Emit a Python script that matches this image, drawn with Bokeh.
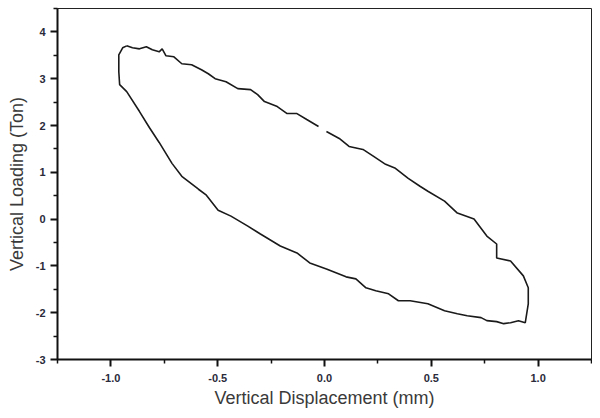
from bokeh.plotting import figure
from bokeh.models import Range1d, FixedTicker, PrintfTickFormatter
from bokeh.embed import file_html
from bokeh.resources import INLINE
import numpy as np

# Hysteresis loop: displacement (mm), load (Ton)
# upper branch (left peak -> right end), NaN marks the small gap in the trace
disp_upper = [-0.926, -0.899, -0.866, -0.834, -0.806, -0.774, -0.760, -0.742, -0.705, -0.668,
              -0.622, -0.576, -0.544, -0.512, -0.461, -0.406, -0.346, -0.313, -0.281, -0.221,
              -0.175, -0.129, -0.083, -0.028, np.nan, 0.009, 0.069, 0.115, 0.180, 0.230,
              0.286, 0.332, 0.392, 0.447, 0.484, 0.562, 0.622, 0.700, 0.760, 0.806,
              0.806, 0.871, 0.931, 0.954, 0.954, 0.940]
load_upper = [3.702, 3.660, 3.638, 3.681, 3.617, 3.574, 3.638, 3.489, 3.468, 3.319,
              3.298, 3.191, 3.106, 3.000, 2.936, 2.787, 2.766, 2.660, 2.511, 2.404,
              2.255, 2.255, 2.128, 1.979, np.nan, 1.872, 1.723, 1.553, 1.489, 1.340,
              1.170, 1.085, 0.872, 0.702, 0.596, 0.383, 0.128, 0.000, -0.362, -0.532,
              -0.830, -0.894, -1.213, -1.468, -1.809, -2.213]
# lower branch (right end -> back to the left peak)
disp_lower = [0.908, 0.871, 0.839, 0.806, 0.760, 0.733, 0.668, 0.622, 0.562, 0.484,
              0.401, 0.346, 0.300, 0.240, 0.194, 0.147, 0.101, 0.009, -0.069, -0.129,
              -0.207, -0.300, -0.359, -0.438, -0.498, -0.553, -0.590, -0.668, -0.714, -0.774,
              -0.820, -0.866, -0.926, -0.959, -0.963, -0.963, -0.945, -0.926]
load_lower = [-2.170, -2.213, -2.234, -2.191, -2.170, -2.106, -2.064, -2.021, -1.957, -1.809,
              -1.745, -1.745, -1.596, -1.532, -1.468, -1.277, -1.234, -1.064, -0.936, -0.723,
              -0.574, -0.319, -0.149, 0.064, 0.191, 0.511, 0.638, 0.915, 1.191, 1.638,
              1.957, 2.298, 2.723, 2.872, 3.149, 3.511, 3.660, 3.702]

x_major = [-1.0, -0.5, 0.0, 0.5, 1.0]
x_minor = [-1.25, -0.75, -0.25, 0.25, 0.75, 1.25]
y_major = [-3, -2, -1, 0, 1, 2, 3, 4]
y_minor = [-2.5, -1.5, -0.5, 0.5, 1.5, 2.5, 3.5, 4.5]

p = figure(width=592, height=410, output_backend="svg", toolbar_location=None,
           x_range=Range1d(-1.25, 1.25), y_range=Range1d(-3, 4.5),
           min_border_left=57, min_border_right=1, min_border_top=8, min_border_bottom=0)

p.line(disp_upper + disp_lower, load_upper + load_lower, line_color="#1a1a1a", line_width=1.6)

p.grid.visible = False
p.outline_line_color = "#222222"
p.outline_line_width = 1
p.background_fill_color = "white"
p.border_fill_color = "white"

p.xaxis.ticker = FixedTicker(ticks=x_major, minor_ticks=x_minor)
p.yaxis.ticker = FixedTicker(ticks=y_major, minor_ticks=y_minor)
p.xaxis.formatter = PrintfTickFormatter(format="%.1f")
p.yaxis.formatter = PrintfTickFormatter(format="%d")

p.xaxis.axis_label = "Vertical Displacement (mm)"
p.yaxis.axis_label = "Vertical Loading (Ton)"

for ax in (p.xaxis, p.yaxis):
    ax.axis_line_width = 2
    ax.axis_line_color = "#111111"
    ax.major_tick_line_color = "#111111"
    ax.minor_tick_line_color = "#111111"
    ax.major_tick_line_width = 2
    ax.minor_tick_line_width = 1.5
    ax.major_tick_in = 0
    ax.major_tick_out = 7
    ax.minor_tick_in = 0
    ax.minor_tick_out = 4
    ax.major_label_text_font = "Liberation Sans"
    ax.major_label_text_font_style = "bold"
    ax.major_label_text_font_size = "11px"
    ax.major_label_text_color = "#2a2a3a"
    ax.axis_label_text_font = "Liberation Sans"
    ax.axis_label_text_font_style = "normal"
    ax.axis_label_text_font_size = "18px"
    ax.axis_label_text_color = "#3a3a3a"

p.xaxis.major_label_standoff = 7
p.yaxis.major_label_standoff = 5
p.xaxis.axis_label_standoff = 3
p.yaxis.axis_label_standoff = 6

open("out.html", "w").write(file_html(p, INLINE))
